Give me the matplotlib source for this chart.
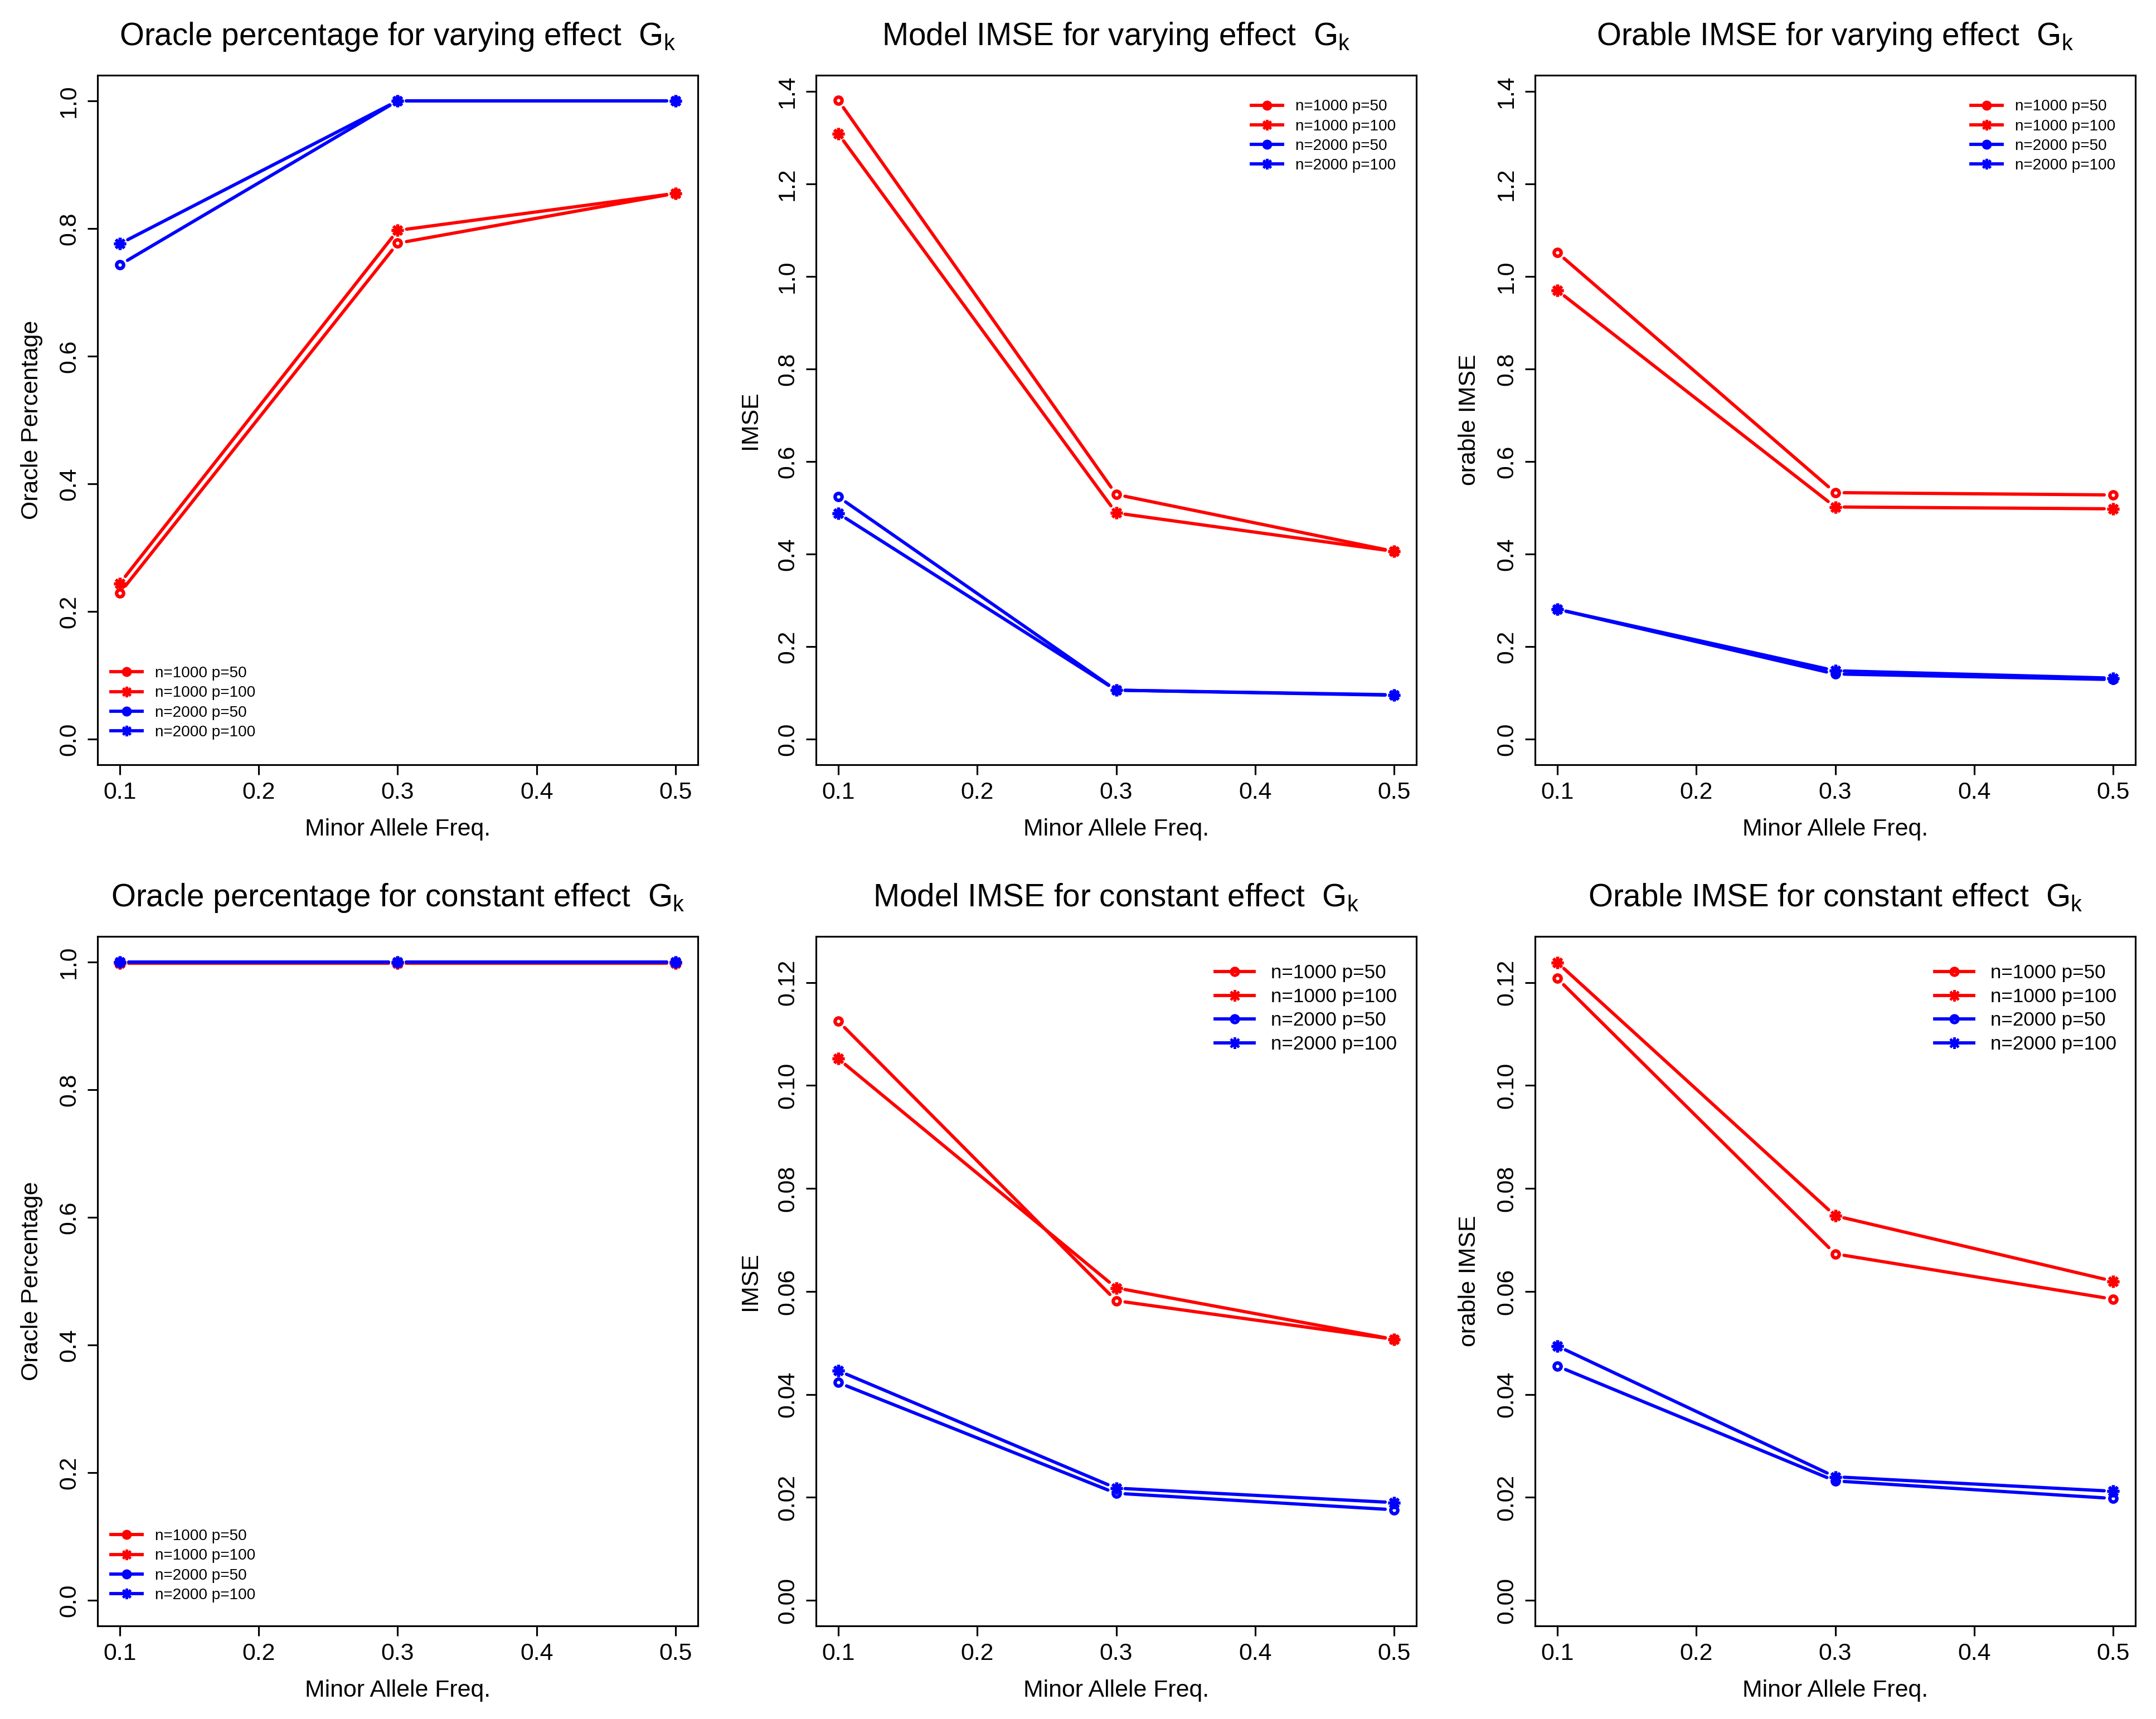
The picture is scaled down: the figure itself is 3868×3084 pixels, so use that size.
import numpy as np
import matplotlib
matplotlib.use("Agg")
import matplotlib.pyplot as plt
from matplotlib.lines import Line2D

plt.rcParams['font.family'] = ['Liberation Sans', 'DejaVu Sans']
plt.rcParams['mathtext.fontset'] = 'custom'
plt.rcParams['mathtext.rm'] = 'Liberation Sans'
plt.rcParams['mathtext.it'] = 'Liberation Sans'

# ---- data ----
maf = [0.1, 0.3, 0.5]
series_labels = ["n=1000 p=50", "n=1000 p=100", "n=2000 p=50", "n=2000 p=100"]
series_colors = ["#FF0000", "#FF0000", "#0000FF", "#0000FF"]

oracle_varying = [[0.229, 0.777, 0.855],
                  [0.244, 0.797, 0.855],
                  [0.743, 1.000, 1.000],
                  [0.776, 1.000, 1.000]]
model_imse_varying = [[1.381, 0.529, 0.406],
                      [1.309, 0.489, 0.406],
                      [0.524, 0.106, 0.095],
                      [0.488, 0.106, 0.096]]
orable_imse_varying = [[1.052, 0.533, 0.528],
                       [0.970, 0.502, 0.498],
                       [0.281, 0.141, 0.129],
                       [0.281, 0.148, 0.132]]
oracle_constant = [[0.998, 0.998, 0.998],
                   [0.998, 0.998, 0.998],
                   [1.0, 1.0, 1.0],
                   [1.0, 1.0, 1.0]]
model_imse_constant = [[0.1125, 0.0582, 0.0507],
                       [0.1052, 0.0607, 0.0507],
                       [0.0423, 0.0208, 0.0176],
                       [0.0446, 0.0218, 0.0190]]
orable_imse_constant = [[0.1208, 0.0673, 0.0585],
                        [0.1239, 0.0747, 0.0620],
                        [0.0455, 0.0232, 0.0198],
                        [0.0494, 0.0240, 0.0212]]

W, H, DPI = 3868, 3084, 300
fig = plt.figure(figsize=(W / DPI, H / DPI), dpi=DPI)

col_left = [175, 1464, 2754]
row_top = [135, 1680]
ax_w, ax_h = 1077, 1237

LW = 1.4
GAP = 16  # px gap around points, like R type="b"


def rlim(lo, hi):
    d = hi - lo
    return lo - 0.04 * d, hi + 0.04 * d


def draw_b(ax, x, y, color, marker, ms, mew):
    pts = ax.transData.transform(np.column_stack([x, y]))
    inv = ax.transData.inverted()
    for p0, p1 in zip(pts[:-1], pts[1:]):
        d = p1 - p0
        L = np.hypot(d[0], d[1])
        if L <= 2 * GAP:
            continue
        u = d / L
        seg = inv.transform(np.array([p0 + u * GAP, p1 - u * GAP]))
        ax.plot(seg[:, 0], seg[:, 1], color=color, lw=LW, solid_capstyle='round')
    ax.plot(x, y, linestyle='none', marker=marker, ms=ms, mew=mew,
            mec=color, mfc='none')


panels = [
    (0, 0, "Oracle percentage for varying effect", "Oracle Percentage",
     oracle_varying, 1.0, np.arange(0, 1.01, 0.2), "%.1f", (0.022, 0.143), 6.7, True),
    (0, 1, "Model IMSE for varying effect", "IMSE",
     model_imse_varying, 1.38, np.arange(0, 1.41, 0.2), "%.1f", (0.725, 0.965), 6.7, True),
    (0, 2, "Orable IMSE for varying effect", "orable IMSE",
     orable_imse_varying, 1.38, np.arange(0, 1.41, 0.2), "%.1f", (0.726, 0.965), 6.7, True),
    (1, 0, "Oracle percentage for constant effect", "Oracle Percentage",
     oracle_constant, 1.0, np.arange(0, 1.01, 0.2), "%.1f", (0.022, 0.1405), 6.7, True),
    (1, 1, "Model IMSE for constant effect", "IMSE",
     model_imse_constant, 0.124, np.arange(0, 0.121, 0.02), "%.2f", (0.665, 0.960), 8.4, False),
    (1, 2, "Orable IMSE for constant effect", "orable IMSE",
     orable_imse_constant, 0.124, np.arange(0, 0.121, 0.02), "%.2f", (0.666, 0.960), 8.4, False),
]

markers = ['o', (8, 2, 0), 'o', (8, 2, 0)]
msizes = [3.0, 5.2, 3.0, 5.2]
mews = [1.5, 1.3, 1.5, 1.3]

for (r, c, title, ylab, data, ytop, yticks, fmt, legpos, legfs, filled) in panels:
    left = col_left[c]
    top = row_top[r]
    ax = fig.add_axes([left / W, 1 - (top + ax_h) / H, ax_w / W, ax_h / H])
    ax.set_xlim(*rlim(0.1, 0.5))
    ax.set_ylim(*rlim(0.0, ytop))

    for vals, col, mk, ms, mw in zip(data, series_colors, markers, msizes, mews):
        draw_b(ax, maf, vals, col, mk, ms, mw)

    ax.set_xticks([0.1, 0.2, 0.3, 0.4, 0.5])
    ax.set_xticklabels(["0.1", "0.2", "0.3", "0.4", "0.5"])
    ax.set_yticks(yticks)
    ax.set_yticklabels([fmt % v for v in yticks], rotation=90, va='center')
    ax.tick_params(axis='both', direction='out', length=4.4, width=0.75,
                   labelsize=10.3)
    ax.tick_params(axis='x', pad=2.8)
    ax.tick_params(axis='y', pad=3.0)
    for sp in ax.spines.values():
        sp.set_linewidth(0.75)

    ax.set_title(title + r"  $\mathrm{G}_{\mathrm{k}}$", fontsize=13.6, pad=13)
    ax.set_xlabel("Minor Allele Freq.", fontsize=10.3, labelpad=6.2)
    ax.set_ylabel(ylab, fontsize=10.3, labelpad=6.5)

    handles = []
    for col, mk in zip(series_colors, markers):
        if mk == 'o':
            if filled:
                h = Line2D([], [], color=col, lw=LW, marker='o', ms=3.8,
                           mfc=col, mec=col, mew=0.5)
            else:
                h = Line2D([], [], color=col, lw=LW, marker='o', ms=3.0,
                           mfc='none', mec=col, mew=1.4)
        else:
            h = Line2D([], [], color=col, lw=LW, marker=mk,
                       ms=4.6 if filled else 5.0, mec=col, mew=1.1)
        handles.append(h)
    ax.legend(handles, series_labels, loc='upper left', bbox_to_anchor=legpos,
              frameon=False, fontsize=legfs, borderpad=0, borderaxespad=0,
              handlelength=2.0, handletextpad=0.85,
              labelspacing=0.33 if filled else 0.27, numpoints=1)

fig.savefig("out.png", dpi=DPI)
